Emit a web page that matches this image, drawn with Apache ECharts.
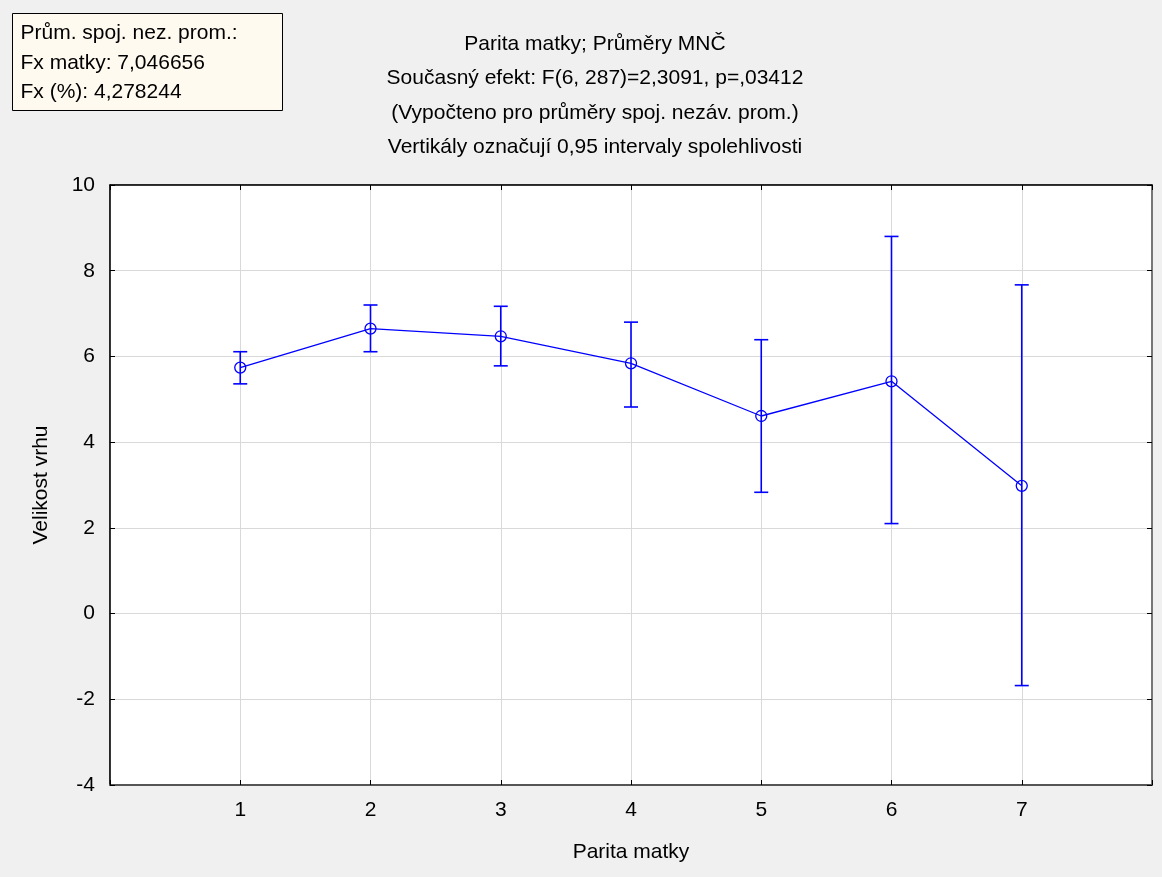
<!DOCTYPE html>
<html>
<head>
<meta charset="utf-8">
<script src="https://cdn.jsdelivr.net/npm/echarts@6/dist/echarts.min.js"></script>
<style>
	html, body { margin: 0; padding: 0; background: #f0f0f0; }
	#graf { width: 1162px; height: 877px; }
</style>
</head>
<body>
<div id="graf"></div>
<script>
// parita matky a průměry MNČ s 0,95 intervaly
var parita = [1, 2, 3, 4, 5, 6, 7];
var prumery = [5.74, 6.65, 6.47, 5.84, 4.61, 5.42, 2.98];
var dolni = [5.36, 6.11, 5.78, 4.82, 2.83, 2.10, -1.68];
var horni = [6.11, 7.20, 7.17, 6.80, 6.39, 8.80, 7.67];
var yTicks = [-4, -2, 0, 2, 4, 6, 8, 10];

var infoRadky = ['Prům. spoj. nez. prom.:', 'Fx matky: 7,046656', 'Fx (%): 4,278244'];
var titulek = ['Parita matky; Průměry MNČ', 'Současný efekt: F(6, 287)=2,3091, p=,03412',
	'(Vypočteno pro průměry spoj. nezáv. prom.)', 'Vertikály označují 0,95 intervaly spolehlivosti'];

var font = 'Liberation Sans, Arial, sans-serif';
var modra = '#0000ff';

var bodyData = [];
var chybyData = [];
for (var i = 0; i < parita.length; i++) {
	bodyData.push([parita[i], prumery[i]]);
	chybyData.push([parita[i], dolni[i], horni[i]]);
}

var graf = echarts.init(document.getElementById('graf'));
var option = {
	backgroundColor: '#f0f0f0',
	animation: false,
	title: {
		text: titulek.join('\n'),
		left: 590,
		top: 22,
		textAlign: 'center',
		textStyle: {
			fontFamily: font,
			fontSize: 21,
			fontWeight: 'normal',
			color: '#000',
			lineHeight: 34.3
		}
	},
	graphic: [{
		type: 'group',
		left: 12,
		top: 13,
		children: [{
			type: 'rect',
			shape: { x: 0, y: 0, width: 270, height: 97 },
			style: { fill: '#fffaf0', stroke: '#000', lineWidth: 1 }
		}, {
			type: 'text',
			x: 8,
			y: 5,
			style: {
				text: infoRadky.join('\n'),
				font: '21px ' + font,
				lineHeight: 29.5,
				fill: '#000'
			}
		}]
	}],
	grid: {
		left: 110,
		top: 185,
		right: 10,
		bottom: 92,
		show: true,
		backgroundColor: '#fff',
		borderColor: '#444',
		borderWidth: 1
	},
	xAxis: [{
		type: 'value',
		min: 0,
		max: 8,
		interval: 1,
		name: 'Parita matky',
		nameLocation: 'middle',
		nameGap: 57,
		nameTextStyle: { fontFamily: font, fontSize: 21, color: '#000' },
		axisLine: { onZero: false, lineStyle: { color: '#555', width: 2 } },
		axisTick: { inside: true, length: 5, lineStyle: { color: '#000' } },
		axisLabel: {
			fontFamily: font, fontSize: 21, color: '#000', margin: 15,
			formatter: function(v) { return (v >= 1 && v <= 7) ? String(v) : ''; }
		},
		splitLine: { lineStyle: { color: '#d9d9d9' } }
	}, {
		type: 'value',
		position: 'top',
		min: 0,
		max: 8,
		interval: 1,
		axisLine: { show: true, onZero: false, lineStyle: { color: '#000', width: 1.5 } },
		axisTick: { inside: true, length: 5, lineStyle: { color: '#000' } },
		axisLabel: { show: false },
		splitLine: { show: false }
	}],
	yAxis: [{
		type: 'value',
		min: yTicks[0],
		max: yTicks[yTicks.length - 1],
		interval: 2,
		name: 'Velikost vrhu',
		nameLocation: 'middle',
		nameGap: 58,
		nameTextStyle: { fontFamily: font, fontSize: 21, color: '#000' },
		axisLine: { show: true, onZero: false, lineStyle: { color: '#000', width: 1.5 } },
		axisTick: { inside: true, length: 5, lineStyle: { color: '#000' } },
		axisLabel: { fontFamily: font, fontSize: 21, color: '#000', margin: 15 },
		splitLine: { lineStyle: { color: '#d9d9d9' } }
	}, {
		type: 'value',
		position: 'right',
		min: yTicks[0],
		max: yTicks[yTicks.length - 1],
		interval: 2,
		axisLine: { show: true, onZero: false, lineStyle: { color: '#777', width: 2 } },
		axisTick: { inside: true, length: 5, lineStyle: { color: '#000' } },
		axisLabel: { show: false },
		splitLine: { show: false }
	}],
	series: [{
		type: 'custom',
		name: 'intervaly',
		data: chybyData,
		z: 3,
		renderItem: function(params, api) {
			var x = api.value(0);
			var lo = api.coord([x, api.value(1)]);
			var hi = api.coord([x, api.value(2)]);
			var w = 7;
			var st = { stroke: modra, lineWidth: 1.6 };
			return {
				type: 'group',
				children: [
					{ type: 'line', shape: { x1: lo[0], y1: lo[1], x2: hi[0], y2: hi[1] }, style: st },
					{ type: 'line', shape: { x1: lo[0] - w, y1: lo[1], x2: lo[0] + w, y2: lo[1] }, style: st },
					{ type: 'line', shape: { x1: hi[0] - w, y1: hi[1], x2: hi[0] + w, y2: hi[1] }, style: st }
				]
			};
		}
	}, {
		type: 'line',
		name: 'průměry',
		data: bodyData,
		z: 4,
		symbol: 'circle',
		symbolSize: 11,
		lineStyle: { color: modra, width: 1.3 },
		itemStyle: { color: 'rgba(0,0,0,0)', borderColor: modra, borderWidth: 1.3 }
	}]
};
graf.setOption(option);
</script>
</body>
</html>
